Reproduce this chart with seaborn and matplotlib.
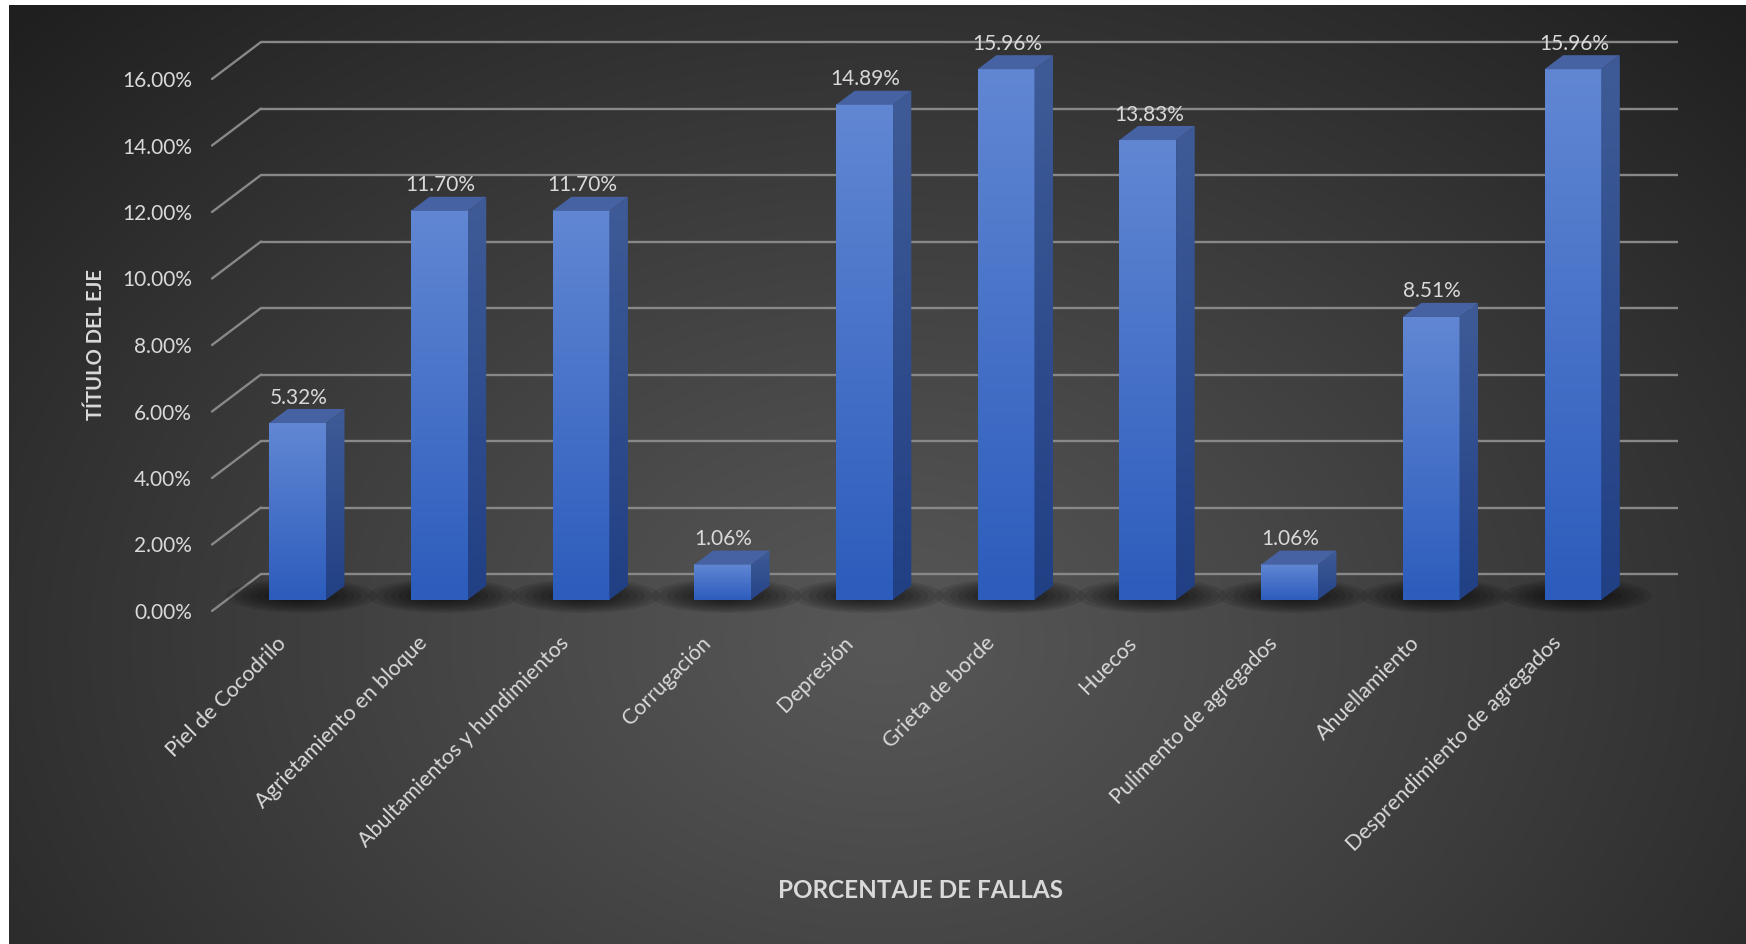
import numpy as np
import matplotlib
matplotlib.use("Agg")
import matplotlib.pyplot as plt
import matplotlib.transforms as mtransforms
from matplotlib.patches import Polygon, Ellipse
import seaborn as sns
import pandas as pd

# ---------------- data ----------------
categorias = ["Piel de Cocodrilo", "Agrietamiento en bloque", "Abultamientos y hundimientos",
              "Corrugación", "Depresión", "Grieta de borde", "Huecos",
              "Pulimento de agregados", "Ahuellamiento", "Desprendimiento de agregados"]
porcentajes = [5.32, 11.70, 11.70, 1.06, 14.89, 15.96, 13.83, 1.06, 8.51, 15.96]
yticks = [0, 2, 4, 6, 8, 10, 12, 14, 16]
ytick_labels = [f"{v:.2f}%" for v in yticks]
titulo_x = "PORCENTAJE DE FALLAS"
titulo_y = "TÍTULO DEL EJE"

# ---------------- style ----------------
W, H = 1746, 944
sns.set_theme(style="white")
plt.rcParams["font.family"] = ["Lato", "DejaVu Sans"]
TXT = "#d9d9d9"
GRID = "#888888"

fig = plt.figure(figsize=(W / 100, H / 100), dpi=100, facecolor="white")

# radial gradient background
bg = fig.add_axes([9 / W, 0, 1 - 9 / W, 1 - 5 / H])
bg.set_zorder(0)
yy, xx = np.mgrid[0:H, 0:W]
r = np.sqrt(((xx - 880) / 980.0) ** 2 + ((yy - 640) / 720.0) ** 2)
t = np.clip(r / 1.25, 0, 1) ** 1.1
c0, c1 = 0x57 / 255, 0x1f / 255
val = c0 + (c1 - c0) * t
img = np.dstack([val, val, val])
bg.imshow(img, extent=[0, 1, 0, 1], aspect="auto", interpolation="bilinear")
bg.axis("off")

# main axes = front plane
ax = fig.add_axes([212 / W, 1 - 611 / H, (1629 - 212) / W, (611 - 79) / H])
ax.set_zorder(1)
ax.patch.set_alpha(0)

df = pd.DataFrame({"categoria": categorias, "porcentaje": porcentajes})
sns.barplot(data=df, x="categoria", y="porcentaje", ax=ax, width=0.4,
            color="#3c6cc8", saturation=1, errorbar=None, zorder=3)
ax.set_xlim(-0.5, len(categorias) - 0.5)
ax.set_ylim(0, 16)
for s in ax.spines.values():
    s.set_visible(False)
ax.grid(False)

# depth geometry (display pixels)
DX, DY = 49.0, 37.0
f0, f1 = 0.30, 0.68
T0 = ax.transData + mtransforms.Affine2D().translate(f0 * DX, f0 * DY)
TB = ax.transData + mtransforms.Affine2D().translate(DX, DY)
inv = ax.transData.inverted()

# gridlines: back wall + left diagonals
ax.hlines(yticks, -0.5, len(categorias) - 0.5, transform=TB, colors=GRID,
          lw=1.7, zorder=0.5, clip_on=False)
for yv in yticks:
    p0 = ax.transData.transform((-0.5, yv))
    p1 = p0 + np.array([DX, DY])
    d = inv.transform(np.vstack([p0, p1]))
    ax.plot(d[:, 0], d[:, 1], color=GRID, lw=1.7, zorder=0.5, clip_on=False)


def vgrad(top, bottom, n=64):
    a = np.array(matplotlib.colors.to_rgb(top))
    b = np.array(matplotlib.colors.to_rgb(bottom))
    s = np.linspace(0, 1, n)[:, None]
    return (a * (1 - s) + b * s)[:, None, :]


front_grad = vgrad("#6187d3", "#2c5cbc")
side_grad = vgrad("#3f5b97", "#203f84")

px_x = ax.transData.transform((1, 0))[0] - ax.transData.transform((0, 0))[0]
px_y = ax.transData.transform((0, 1))[1] - ax.transData.transform((0, 0))[1]

bars = list(ax.patches)
for p in bars:
    x, w, h = p.get_x(), p.get_width(), p.get_height()
    # shadow on the floor
    fb = T0.transform((x + w / 2, 0))
    for k in range(8):
        sc = 1 - k * 0.1
        sx, sy = inv.transform((fb[0] + 4, fb[1] + 4))
        e = Ellipse((sx, sy), width=(150 * sc) / px_x, height=(34 * sc) / px_y,
                    facecolor="black", edgecolor="none", alpha=0.1, zorder=1,
                    clip_on=False)
        ax.add_patch(e)
    # front face
    p.set_transform(T0)
    p.set_facecolor("none")
    p.set_edgecolor("none")
    im = ax.imshow(front_grad, extent=[x, x + w, 0, h], aspect="auto",
                   interpolation="bilinear", zorder=3)
    im.set_transform(T0)
    im.set_clip_path(p)
    im.set_clip_box(fig.bbox)
    # side face
    d = np.array([(f1 - f0) * DX, (f1 - f0) * DY])
    rb = T0.transform((x + w, 0))
    rt = T0.transform((x + w, h))
    side = inv.transform(np.vstack([rb, rt, rt + d, rb + d]))
    sp = Polygon(side, closed=True, facecolor="none", edgecolor="none", zorder=3,
                 clip_on=False)
    ax.add_patch(sp)
    ims = ax.imshow(side_grad, extent=[side[:, 0].min(), side[:, 0].max(), 0, side[:, 1].max()],
                    aspect="auto", interpolation="bilinear", zorder=3)
    ims.set_clip_path(sp)
    ims.set_clip_box(fig.bbox)
    # top face
    lt = T0.transform((x, h))
    top = inv.transform(np.vstack([lt, rt, rt + d, lt + d]))
    ax.add_patch(Polygon(top, closed=True, facecolor="#4662a2", edgecolor="none",
                         zorder=3.5, clip_on=False))

# data labels
for i, v in enumerate(porcentajes):
    ax.annotate(f"{v:.2f}%", xy=(i, v), xycoords=T0,
                xytext=(1 * 0.72, 25.5 * 0.72), textcoords="offset points",
                ha="center", va="center", fontsize=15, color=TXT, zorder=5)

ax.set_xlim(-0.5, len(categorias) - 0.5)
ax.set_ylim(0, 16)

ax.set_yticks(yticks)
ax.set_yticklabels(ytick_labels)
ax.set_xticks(range(len(categorias)))
ax.set_xticklabels(categorias, rotation=45, ha="right", va="center",
                   rotation_mode="anchor")
ax.tick_params(axis="y", length=0, pad=20 * 0.72, labelsize=15, labelcolor=TXT)
ax.tick_params(axis="x", length=0, pad=29 * 0.72, labelsize=15.5, labelcolor=TXT)
ax.set_xlabel("")
ax.set_ylabel("")

fig.text(96 / W, 1 - 345 / H, titulo_y, rotation=90, ha="center", va="center",
         fontsize=14.5, fontweight="bold", color=TXT)
fig.text(921 / W, 1 - 891 / H, titulo_x, ha="center", va="center",
         fontsize=17.5, fontweight="bold", color=TXT)

fig.savefig("out.png", dpi=100, facecolor="white")
